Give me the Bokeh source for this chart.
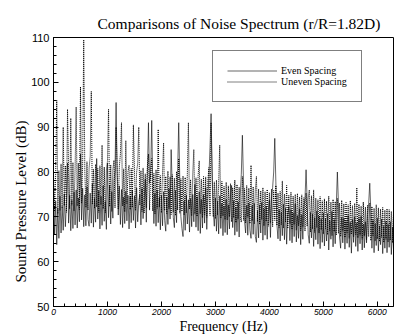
from bokeh.plotting import figure
from bokeh.models import Range1d, SingleIntervalTicker, Legend, LegendItem, Title
from bokeh.embed import file_html
from bokeh.resources import INLINE

# Spectrum samples, one value every 20 Hz starting at 0 Hz
FREQ_STEP_HZ = 20

even_db = [
    78.5, 66.0, 73.5, 63.8, 71.9, 65.2, 74.6, 66.4, 72.3, 67.0,
    75.1, 67.8, 73.0, 82.0, 68.6, 74.8, 66.9, 73.7, 67.4, 75.5,
    68.2, 76.0, 67.5, 74.2, 68.9, 84.0, 69.3, 76.4, 67.8, 74.9,
    68.0, 76.7, 69.4, 67.9, 75.3, 68.6, 77.4, 67.7, 74.1, 68.8,
    83.0, 69.5, 75.8, 67.3, 74.6, 68.1, 76.9, 69.0, 73.4, 67.2,
    82.0, 69.8, 77.1, 68.4, 75.6, 69.7, 78.0, 80.5, 95.5, 79.0,
    70.4, 76.9, 68.3, 76.1, 67.6, 74.4, 68.5, 75.7, 69.1, 74.8,
    67.3, 74.5, 68.7, 75.9, 69.2, 74.7, 67.5, 76.5, 68.9, 73.3,
    75.0, 68.2, 76.3, 69.6, 74.0, 78.4, 68.8, 80.0, 91.0, 77.5,
    79.6, 91.5, 76.4, 68.5, 75.2, 67.9, 76.0, 68.7, 74.3, 67.1,
    74.8, 68.0, 75.6, 69.2, 66.8, 74.4, 68.3, 76.3, 69.5, 85.0,
    77.0, 69.9, 67.6, 75.9, 68.7, 80.0, 91.0, 78.2, 70.1, 67.4,
    65.6, 73.5, 67.0, 74.8, 68.4, 73.8, 66.6, 74.1, 67.8, 75.0,
    68.9, 77.2, 67.7, 74.5, 66.9, 75.6, 66.3, 73.9, 67.5, 74.9,
    68.6, 76.5, 67.2, 74.0, 79.0, 85.5, 93.0, 80.2, 71.2, 67.9,
    74.2, 66.8, 73.5, 66.2, 74.7, 67.4, 73.0, 65.8, 72.4, 66.5,
    73.9, 66.0, 72.7, 67.3, 74.9, 77.0, 67.6, 73.6, 65.9, 72.1,
    66.7, 73.3, 65.5, 74.6, 79.5, 88.2, 78.0, 69.0, 66.4, 72.6,
    65.9, 73.1, 67.0, 65.2, 72.5, 66.1, 73.0, 65.6, 64.3, 71.4,
    65.3, 72.7, 66.4, 73.2, 64.8, 71.8, 65.9, 72.4, 65.0, 71.2,
    73.7, 65.4, 74.0, 76.5, 80.0, 87.5, 77.8, 68.2, 65.1, 71.5,
    64.6, 71.0, 65.8, 72.8, 64.9, 71.9, 63.9, 70.6, 72.3, 64.7,
    71.6, 64.2, 70.9, 65.6, 72.9, 64.4, 70.3, 65.2, 71.8, 63.8,
    70.5, 65.0, 72.1, 74.0, 80.5, 73.5, 66.0, 64.1, 71.0, 65.3,
    70.6, 63.4, 69.8, 64.9, 71.3, 63.9, 70.2, 62.9, 69.5, 64.3,
    70.9, 63.5, 69.6, 64.6, 70.7, 62.6, 69.1, 65.0, 71.2, 63.3,
    69.4, 64.0, 72.5, 80.0, 73.0, 65.5, 63.0, 69.9, 64.2, 69.7,
    62.8, 69.0, 64.1, 70.3, 63.2, 68.8, 61.9, 69.4, 64.3, 70.0,
    63.4, 68.7, 62.3, 69.6, 64.0, 70.1, 62.6, 68.4, 63.1, 68.9,
    64.2, 70.5, 73.0, 77.5, 71.2, 63.0, 69.2, 62.0, 68.5, 63.6,
    69.7, 62.4, 68.0, 63.8, 69.5, 61.8, 67.9, 63.0, 69.0, 62.0,
    68.3, 63.2, 68.9, 61.6, 67.7, 62.8,
]

uneven_db = [
    80.0, 71.2, 79.5, 96.0, 70.6, 80.3, 71.4, 81.8, 72.0, 90.0,
    72.5, 81.4, 71.0, 94.0, 79.9, 71.8, 92.0, 72.6, 82.1, 71.3,
    80.7, 94.5, 72.4, 82.0, 71.6, 99.0, 73.0, 81.5, 109.5, 80.2,
    72.1, 82.3, 71.5, 80.9, 83.5, 98.0, 72.8, 80.6, 71.9, 81.7,
    72.2, 80.8, 71.0, 81.4, 72.7, 86.0, 71.8, 81.1, 70.9, 80.4,
    82.4, 94.0, 72.3, 81.6, 71.2, 80.5, 82.6, 72.0, 90.0, 81.0,
    71.7, 81.2, 84.0, 91.0, 72.4, 80.7, 71.1, 87.0, 72.9, 80.1,
    81.5, 71.6, 80.8, 72.1, 90.5, 80.4, 71.4, 80.0, 81.9, 90.0,
    72.6, 80.3, 71.2, 80.9, 70.8, 79.6, 72.0, 81.3, 84.0, 71.5,
    80.3, 83.0, 71.3, 79.7, 70.6, 80.5, 71.9, 89.5, 72.2, 79.2,
    70.9, 79.8, 86.5, 71.4, 79.0, 70.7, 80.2, 71.8, 78.9, 70.5,
    79.4, 71.0, 78.6, 70.3, 80.1, 71.5, 83.0, 70.8, 78.5, 71.2,
    79.1, 70.4, 78.8, 70.9, 79.6, 91.0, 71.7, 78.3, 70.2, 79.5,
    85.0, 70.6, 78.7, 70.1, 79.2, 82.5, 70.7, 78.4, 69.8, 79.0,
    70.5, 78.9, 69.9, 78.1, 81.0, 70.3, 91.0, 78.5, 70.0, 77.8,
    69.6, 78.2, 70.4, 77.5, 86.0, 69.7, 77.9, 70.2, 76.8, 69.4,
    77.7, 69.3, 76.9, 70.0, 77.4, 68.9, 76.5, 69.8, 78.2, 68.7,
    77.2, 69.5, 76.6, 70.1, 68.8, 79.0, 69.2, 76.3, 68.6, 77.0,
    69.9, 76.4, 68.5, 81.5, 69.1, 76.7, 68.4, 76.0, 79.0, 68.9,
    76.2, 68.3, 75.8, 69.4, 76.5, 68.0, 75.6, 69.0, 76.1, 67.9,
    75.4, 68.6, 76.2, 67.8, 75.9, 69.2, 77.0, 68.1, 75.3, 67.6,
    75.7, 68.2, 78.0, 67.5, 75.1, 68.8, 77.0, 67.4, 74.8, 68.5,
    75.5, 67.2, 74.6, 68.3, 75.0, 67.0, 75.2, 68.0, 74.4, 66.9,
    74.9, 67.7, 74.3, 66.8, 75.3, 67.9, 74.1, 76.0, 66.6, 74.7,
    67.3, 76.0, 66.5, 74.2, 67.6, 73.8, 66.4, 74.5, 67.1, 73.6,
    66.2, 74.0, 67.4, 73.5, 66.0, 74.6, 66.9, 73.3, 65.8, 73.9,
    66.7, 73.4, 65.9, 74.1, 66.3, 73.1, 65.6, 73.7, 66.8, 72.9,
    65.4, 73.2, 66.5, 72.7, 65.2, 73.6, 66.1, 72.5, 65.5, 73.0,
    66.0, 76.5, 65.3, 72.8, 65.9, 72.4, 65.0, 73.3, 65.7, 72.2,
    64.9, 72.6, 65.6, 73.1, 64.7, 72.3, 65.8, 71.9, 64.6, 72.7,
    65.1, 72.0, 64.5, 71.7, 65.4, 72.1, 64.3, 71.5, 65.0, 71.8,
    64.4, 71.6, 64.8, 71.2, 64.2, 70.9,
]

even_freq = [i * FREQ_STEP_HZ for i in range(len(even_db))]
uneven_freq = [i * FREQ_STEP_HZ for i in range(len(uneven_db))]

series_labels = ["Even Spacing", "Uneven Spacing"]
title_text = "Comparisons of Noise Spectrum (r/R=1.82D)"
x_label = "Frequency (Hz)"
y_label = "Sound Pressure Level (dB)"
x_min, x_max = 0, 6300
y_min, y_max = 50, 110

SERIF = "Liberation Serif"
SANS = "Liberation Sans"

p = figure(width=400, height=336, output_backend="svg", toolbar_location=None,
           x_range=Range1d(x_min, x_max), y_range=Range1d(y_min, y_max),
           min_border_left=53, min_border_right=7, min_border_top=37,
           min_border_bottom=29)
p.background_fill_color = "white"
p.border_fill_color = "white"
p.outline_line_color = "black"
p.outline_line_width = 1
p.xgrid.visible = False
p.ygrid.visible = False

p.title.text = title_text
p.title.align = "left"
p.title.offset = 44
p.title.text_font = SERIF
p.title.text_font_size = "15.5px"
p.title.text_font_style = "normal"
p.title.text_color = "black"
p.title.standoff = 11

p.xaxis.ticker = SingleIntervalTicker(interval=1000, num_minor_ticks=5)
p.yaxis.ticker = SingleIntervalTicker(interval=10, num_minor_ticks=5)
for ax in (p.xaxis, p.yaxis):
    ax.axis_line_color = "black"
    ax.major_tick_line_color = "black"
    ax.minor_tick_line_color = "black"
    ax.major_tick_in = 5
    ax.major_tick_out = 0
    ax.minor_tick_in = 3
    ax.minor_tick_out = 0
    ax.major_label_text_color = "black"
    ax.major_label_text_font = SANS

p.xaxis.major_label_text_font_size = "8.5px"
p.xaxis.major_label_text_font_style = "italic"
p.xaxis.major_label_standoff = 2
p.xaxis.axis_label = x_label
p.xaxis.axis_label_text_font = SERIF
p.xaxis.axis_label_text_font_size = "14px"
p.xaxis.axis_label_text_font_style = "normal"
p.xaxis.axis_label_text_color = "black"
p.xaxis.axis_label_standoff = 1

p.yaxis.major_label_text_font_size = "11px"
p.yaxis.major_label_standoff = 4

p.add_layout(Title(text=y_label, align="left", offset=24, text_font=SERIF,
                   text_font_size="15px", text_font_style="normal",
                   text_color="black", standoff=0), "left")

r_uneven = p.line(uneven_freq, uneven_db, line_color="black", line_width=1,
                  line_dash="1 1")
r_even = p.line(even_freq, even_db, line_color="black", line_width=0.6)

legend = Legend(items=[LegendItem(label=series_labels[0], renderers=[r_even]),
                       LegendItem(label=series_labels[1], renderers=[r_uneven])],
                location=(159, 204), orientation="vertical",
                padding=14, spacing=0, margin=0,
                label_height=9, glyph_height=9, glyph_width=50, label_standoff=4,
                label_text_font=SERIF, label_text_font_size="10px",
                label_text_color="black",
                border_line_color="black", border_line_width=1,
                background_fill_color="white", background_fill_alpha=1)
p.add_layout(legend)

open("out.html", "w").write(file_html(p, INLINE))
